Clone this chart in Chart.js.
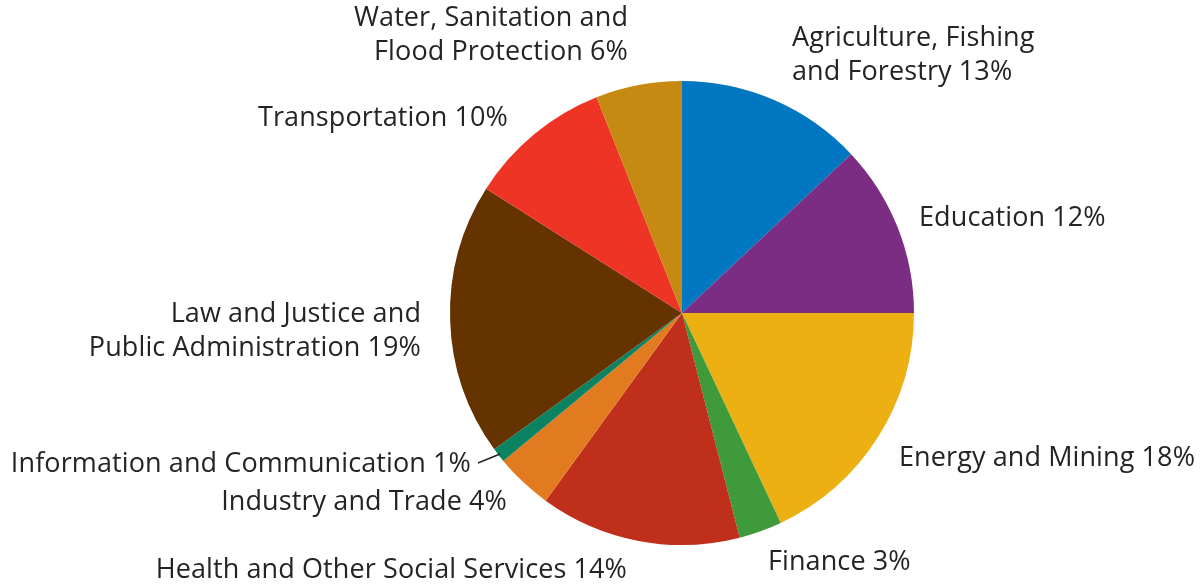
<!DOCTYPE html>
<html>
<head>
<meta charset="utf-8">
<script src="https://cdn.jsdelivr.net/npm/chart.js@4.4.0/dist/chart.umd.min.js"></script>
<style>
  html, body { margin: 0; padding: 0; background: #fff; }
  #wrap { width: 1204px; height: 585px; position: relative; }
</style>
</head>
<body>
<div id="wrap"><canvas id="sectorChart" width="1204" height="585"></canvas></div>
<script>
const sectors = [
    'Agriculture, Fishing and Forestry', 'Education', 'Energy and Mining', 'Finance',
    'Health and Other Social Services', 'Industry and Trade', 'Information and Communication',
    'Law and Justice and Public Administration', 'Transportation', 'Water, Sanitation and Flood Protection'
];
const shares = [13, 12, 18, 3, 14, 4, 1, 19, 10, 6];
const sliceColors = ['#0077c0', '#7b2c83', '#ecb013', '#3f9a3b', '#bf2f1b', '#e27b1f', '#0b8362', '#643300', '#ee3425', '#c68a12'];

// label text lines, split as in the figure
const labelLines = [
    ['Agriculture, Fishing', 'and Forestry 13%'],
    ['Education 12%'],
    ['Energy and Mining 18%'],
    ['Finance 3%'],
    ['Health and Other Social Services 14%'],
    ['Industry and Trade 4%'],
    ['Information and Communication 1%'],
    ['Law and Justice and', 'Public Administration 19%'],
    ['Transportation 10%'],
    ['Water, Sanitation and', 'Flood Protection 6%']
];
// label placement relative to pie centre: dx, dy of first line, alignment
const labelPos = [
    { dx: 110, dy: -275, align: 'left' },
    { dx: 237, dy: -95, align: 'left' },
    { dx: 217, dy: 145, align: 'left' },
    { dx: 86, dy: 249, align: 'left' },
    { dx: -55, dy: 257, align: 'right' },
    { dx: -175, dy: 189, align: 'right' },
    { dx: -211, dy: 151, align: 'right', leader: [-204, 150, -182, 141] },
    { dx: -261, dy: 1, align: 'right' },
    { dx: -174, dy: -195, align: 'right' },
    { dx: -54, dy: -295, align: 'right' }
];

const sliceLabels = {
    id: 'sliceLabels',
    afterDraw(chart) {
        const ctx = chart.ctx;
        const arc = chart.getDatasetMeta(0).data[0];
        const cx = arc.x, cy = arc.y;
        ctx.save();
        ctx.fillStyle = '#262324';
        ctx.strokeStyle = '#262324';
        ctx.font = '27px "Open Sans"';
        ctx.letterSpacing = '0.1px';
        ctx.textBaseline = 'middle';
        labelPos.forEach((p, i) => {
            ctx.textAlign = p.align;
            labelLines[i].forEach((line, j) => {
                ctx.fillText(line, cx + p.dx, cy + p.dy + j * 34);
            });
            if (p.leader) {
                ctx.lineWidth = 1.5;
                ctx.beginPath();
                ctx.moveTo(cx + p.leader[0], cy + p.leader[1]);
                ctx.lineTo(cx + p.leader[2], cy + p.leader[3]);
                ctx.stroke();
            }
        });
        ctx.restore();
    }
};

new Chart(document.getElementById('sectorChart').getContext('2d'), {
    type: 'pie',
    data: {
        labels: sectors,
        datasets: [{
            data: shares,
            backgroundColor: sliceColors,
            borderWidth: 0
        }]
    },
    options: {
        responsive: false,
        animation: false,
        layout: { padding: { top: 81, bottom: 40, left: 450, right: 290 } },
        plugins: {
            legend: { display: false },
            tooltip: { enabled: false }
        }
    },
    plugins: [sliceLabels]
});
</script>
</body>
</html>
